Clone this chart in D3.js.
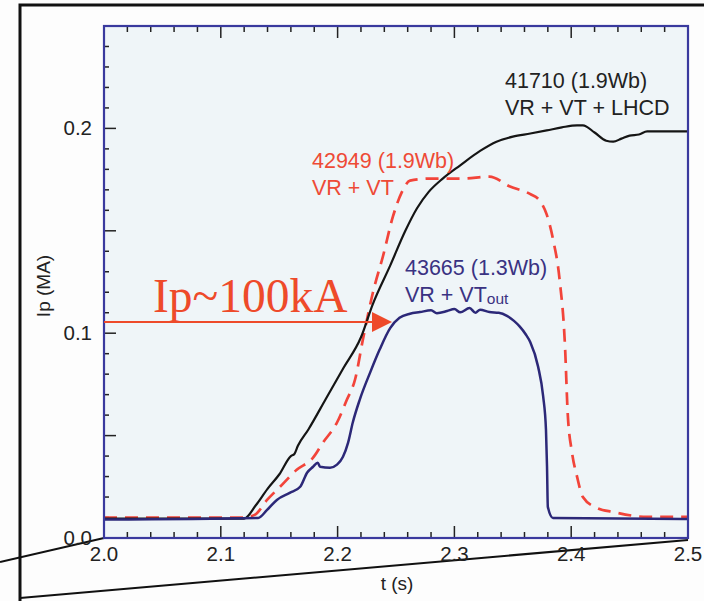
<!DOCTYPE html>
<html><head><meta charset="utf-8">
<script src="https://cdn.jsdelivr.net/npm/d3@7/dist/d3.min.js"></script>
<style>html,body{margin:0;padding:0;background:#fdfdfd;}svg{display:block;}</style>
</head><body>
<script>
// ---- data ----
const shot41710_t = [2.000,2.120,2.130,2.140,2.150,2.160,2.163,2.166,2.175,2.190,2.205,2.220,2.230,2.245,2.258,2.268,2.278,2.290,2.305,2.322,2.336,2.350,2.365,2.379,2.392,2.405,2.410,2.420,2.430,2.436,2.443,2.450,2.458,2.465,2.500];
const shot41710_v = [0.0095,0.0095,0.016,0.024,0.031,0.040,0.041,0.045,0.053,0.068,0.083,0.098,0.114,0.133,0.150,0.161,0.169,0.1755,0.182,0.189,0.1935,0.196,0.1975,0.199,0.2005,0.2015,0.2015,0.198,0.194,0.1935,0.195,0.1965,0.197,0.1985,0.1985];
const shot42949_t = [2.000,2.119,2.129,2.1396,2.1507,2.165,2.179,2.1875,2.1995,2.208,2.215,2.2217,2.2303,2.2389,2.2474,2.2551,2.262,2.279,2.307,2.330,2.3476,2.3647,2.373,2.379,2.3844,2.390,2.3947,2.397,2.4007,2.405,2.410,2.422,2.436,2.465,2.500];
const shot42949_v = [0.010,0.010,0.0113,0.0186,0.025,0.0333,0.0392,0.0466,0.0564,0.0676,0.0775,0.097,0.120,0.1377,0.157,0.169,0.1745,0.1755,0.1755,0.1765,0.1716,0.168,0.1647,0.158,0.146,0.1265,0.0936,0.061,0.0417,0.030,0.020,0.0147,0.0127,0.0103,0.0103];
const shot43665_t = [2.000,2.132,2.1396,2.148,2.159,2.168,2.174,2.179,2.183,2.185,2.1935,2.1995,2.2046,2.209,2.213,2.219,2.228,2.236,2.245,2.253,2.262,2.2705,2.280,2.285,2.2937,2.300,2.305,2.313,2.318,2.322,2.330,2.338,2.345,2.351,2.356,2.361,2.365,2.3716,2.376,2.3784,2.3793,2.380,2.3844,2.500];
const shot43665_v = [0.009,0.0098,0.0137,0.0186,0.022,0.025,0.032,0.0348,0.0368,0.0348,0.0343,0.0358,0.0397,0.0466,0.0564,0.0676,0.081,0.092,0.1025,0.1075,0.1095,0.1103,0.1112,0.1098,0.1108,0.1118,0.1102,0.1123,0.1100,0.1115,0.1103,0.110,0.1085,0.106,0.1032,0.0995,0.0956,0.0838,0.0691,0.0529,0.0348,0.0152,0.0098,0.0093];

const xTickLabels = ["2.0","2.1","2.2","2.3","2.4","2.5"];
const yTickLabels = ["0.0","0.1","0.2"];
const arrowT = [2.000, 2.2466];
const arrowV = 0.1055;

// ---- layout ----
const W = 704, H = 601;
const svg = d3.select("body").append("svg").attr("width", W).attr("height", H);
const x = d3.scaleLinear().domain([2.0, 2.5]).range([104, 688]);
const y = d3.scaleLinear().domain([0, 0.25]).range([538, 26]);
const FONT = "'Liberation Sans', Arial, sans-serif";

svg.append("rect").attr("width", W).attr("height", H).attr("fill", "#fdfdfd");

// outer black frame
svg.append("path").attr("d", "M20,601 L20,5 L704,5").attr("fill", "none").attr("stroke", "#111").attr("stroke-width", 3);

// plot background
svg.append("rect").attr("x", x(2.0)).attr("y", y(0.25)).attr("width", x(2.5) - x(2.0)).attr("height", y(0) - y(0.25))
  .attr("fill", "#eff5f8");

// zoom-indicator lines
svg.append("line").attr("x1", x(2.0)).attr("y1", y(0)).attr("x2", 0).attr("y2", 562).attr("stroke", "#111").attr("stroke-width", 2);
svg.append("line").attr("x1", x(2.5)).attr("y1", y(0) + 2).attr("x2", 20).attr("y2", 598).attr("stroke", "#111").attr("stroke-width", 2);

// ticks
const tickCol = "#222";
const g = svg.append("g");
d3.range(0, 26).forEach(i => {
  const t = 2.0 + i * 0.02;
  const major = i % 5 === 0;
  const len = major ? 12 : 6;
  if (i > 0 && i < 25) {
    g.append("line").attr("x1", x(t)).attr("x2", x(t)).attr("y1", y(0)).attr("y2", y(0) - len).attr("stroke", tickCol).attr("stroke-width", 1.5);
    g.append("line").attr("x1", x(t)).attr("x2", x(t)).attr("y1", y(0.25)).attr("y2", y(0.25) + len).attr("stroke", tickCol).attr("stroke-width", 1.5);
  }
});
d3.range(1, 25).forEach(i => {
  const v = i * 0.01;
  const major = i % 5 === 0;
  const len = major ? 12 : 5;
  g.append("line").attr("x1", x(2.0)).attr("x2", x(2.0) + len).attr("y1", y(v)).attr("y2", y(v)).attr("stroke", tickCol).attr("stroke-width", 1.5);
});

// tick labels
xTickLabels.forEach(s => {
  svg.append("text").attr("x", x(+s)).attr("y", 561).attr("text-anchor", "middle")
    .attr("font-family", FONT).attr("font-size", 20.5).attr("fill", "#222").text(s);
});
yTickLabels.forEach(s => {
  svg.append("text").attr("x", 92).attr("y", y(+s) + 7).attr("text-anchor", "end")
    .attr("font-family", FONT).attr("font-size", 20.5).attr("fill", "#222").text(s);
});
svg.append("text").attr("x", 397).attr("y", 590).attr("text-anchor", "middle")
  .attr("font-family", FONT).attr("font-size", 19).attr("fill", "#222").text("t (s)");
svg.append("text").attr("transform", "translate(50,286) rotate(-90)").attr("text-anchor", "middle")
  .attr("font-family", FONT).attr("font-size", 19).attr("fill", "#222").text("Ip (MA)");

// lines
const line = d3.line().x(d => x(d[0])).y(d => y(d[1])).curve(d3.curveMonotoneX);
svg.append("clipPath").attr("id", "pc").append("rect")
  .attr("x", x(2.0)).attr("y", y(0.25)).attr("width", x(2.5) - x(2.0)).attr("height", y(0) - y(0.25));
const lines = svg.append("g").attr("clip-path", "url(#pc)");
lines.append("path").datum(d3.zip(shot42949_t, shot42949_v)).attr("d", line)
  .attr("fill", "none").attr("stroke", "#f2443a").attr("stroke-width", 2.7).attr("stroke-dasharray", "13,8");
lines.append("path").datum(d3.zip(shot41710_t, shot41710_v)).attr("d", line)
  .attr("fill", "none").attr("stroke", "#151515").attr("stroke-width", 2.2);
lines.append("path").datum(d3.zip(shot43665_t, shot43665_v)).attr("d", line)
  .attr("fill", "none").attr("stroke", "#2c2878").attr("stroke-width", 2.5);

// plot frame
svg.append("rect").attr("x", x(2.0)).attr("y", y(0.25)).attr("width", x(2.5) - x(2.0)).attr("height", y(0) - y(0.25))
  .attr("fill", "none").attr("stroke", "#3a3a9e").attr("stroke-width", 2.2);

// labels
function label(xp, yp, lines, col) {
  lines.forEach((s, i) => {
    const t = svg.append("text").attr("x", xp).attr("y", yp + i * 27)
      .attr("font-family", FONT).attr("font-size", 21.5).attr("fill", col);
    if (Array.isArray(s)) {
      t.append("tspan").text(s[0]);
      t.append("tspan").attr("font-size", 15.5).attr("dy", 2).text(s[1]);
    } else t.text(s);
  });
}
label(505, 88, ["41710 (1.9Wb)", "VR + VT + LHCD"], "#222");
label(312, 168, ["42949 (1.9Wb)", "VR + VT"], "#ee4a36");
label(405, 275, ["43665 (1.3Wb)", ["VR + VT", "out"]], "#3a3282");

// annotation arrow
const ac = "#ee4a2a";
svg.append("line").attr("x1", x(arrowT[0])).attr("x2", x(arrowT[1]) - 16).attr("y1", y(arrowV)).attr("y2", y(arrowV))
  .attr("stroke", ac).attr("stroke-width", 2);
const tx = x(arrowT[1]), ty = y(arrowV);
svg.append("path").attr("d", `M${tx},${ty} L${tx - 20},${ty - 10} L${tx - 20},${ty + 10} Z`).attr("fill", ac);
svg.append("text").attr("x", 153).attr("y", 312).attr("font-family", "'Liberation Serif', 'Times New Roman', serif")
  .attr("font-size", 47.5).attr("fill", ac).text("Ip~100kA");
</script>
</body></html>
